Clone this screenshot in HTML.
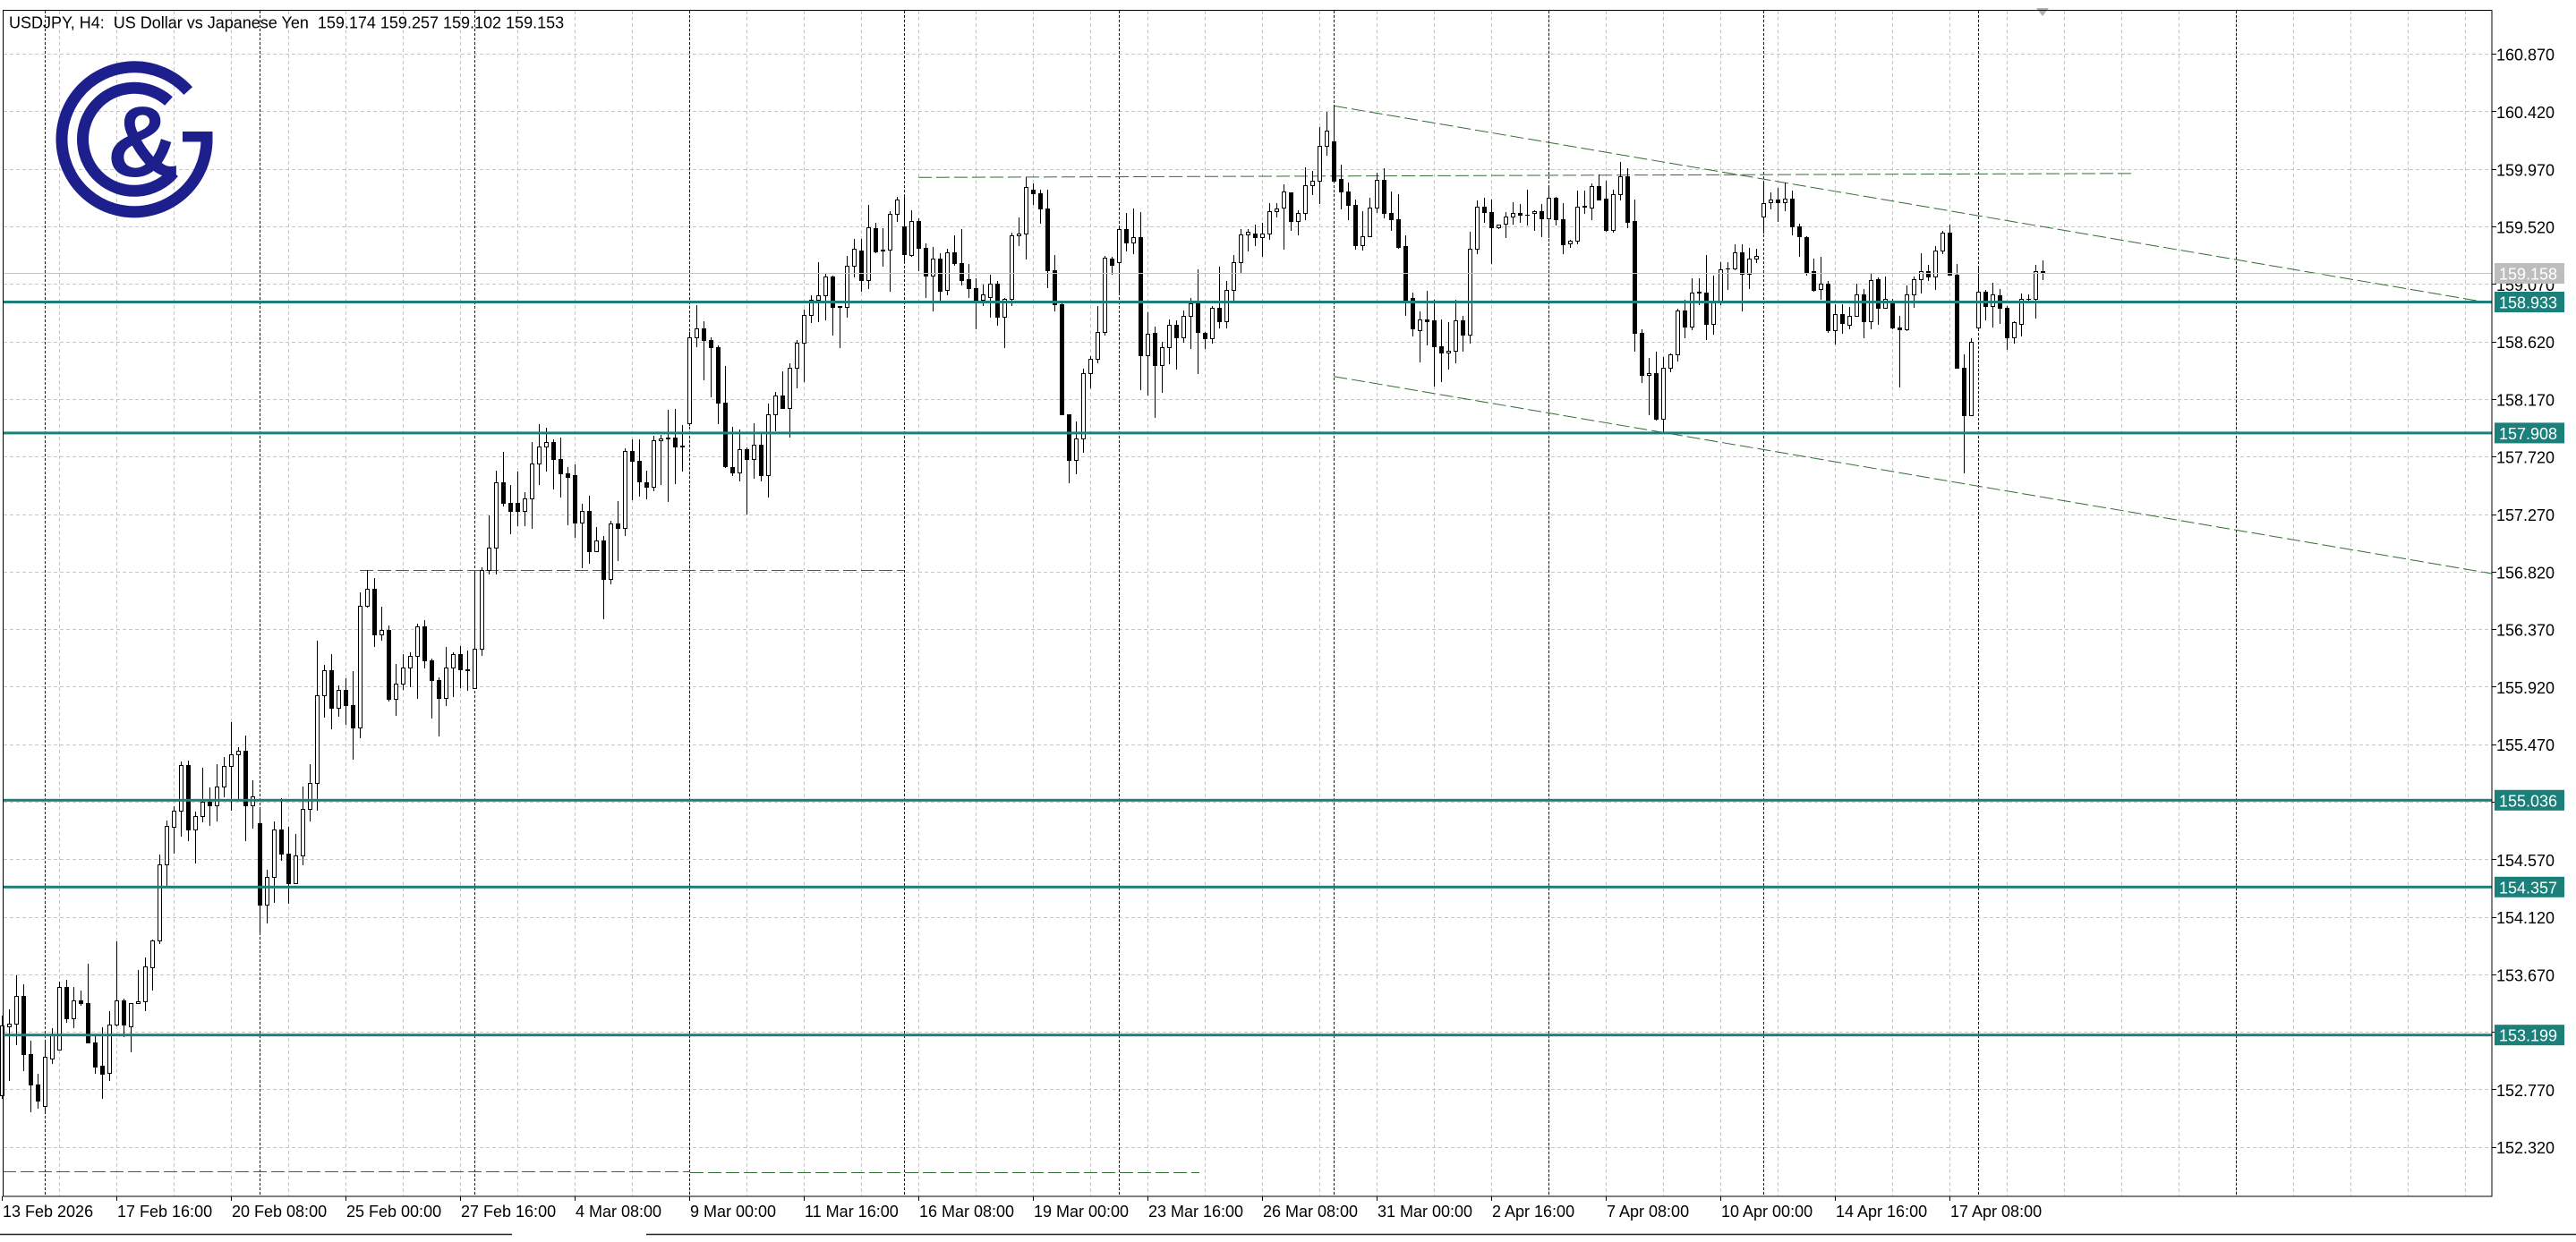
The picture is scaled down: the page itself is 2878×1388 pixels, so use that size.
<!DOCTYPE html>
<html><head><meta charset="utf-8">
<style>
html,body{margin:0;padding:0;background:#fff;}
svg{display:block;}
text{font-family:"Liberation Sans",Arial,sans-serif;font-size:18px;fill:#000;white-space:pre;}
.w{fill:#fff;}
</style></head><body>
<svg xmlns="http://www.w3.org/2000/svg" width="2878" height="1388" viewBox="0 0 2878 1388">
<rect width="2878" height="1388" fill="#fff"/>
<g id="grid" stroke="#c6c6c6" stroke-width="1" stroke-dasharray="4 3" fill="none"></g>
<g id="sep" stroke="#1a1a1a" stroke-width="1" stroke-dasharray="3 2" fill="none"></g>

<!-- logo -->
<g fill="none" stroke="#1d1f8c" stroke-width="13">
<path d="M231 155.8 A81 81 0 1 1 210.2 101.6"/>
<path d="M194 192.8 A57.5 57.5 0 1 1 188.5 113.1"/>
</g>
<rect x="204" y="147" width="33.5" height="11.5" fill="#1d1f8c"/>
<text x="160" y="197" text-anchor="middle" style="font-size:112px;font-weight:bold;fill:#1d1f8c">&amp;</text>

<!-- drawn objects -->
<g stroke="#356b35" stroke-width="1" stroke-dasharray="15 5" fill="none">
<line x1="3" y1="1309.5" x2="771" y2="1309.5"/>
<line x1="771" y1="1310.5" x2="1340" y2="1310.5"/>
<line x1="402" y1="637.5" x2="1010" y2="637.5"/>
<line x1="1026" y1="198.3" x2="2386" y2="193.8"/>
<line x1="1490.3" y1="118.3" x2="2784" y2="338.9"/>
<line x1="1490.3" y1="420.7" x2="2784" y2="641"/>
</g>

<g id="candles" stroke="#000" stroke-width="1"></g>

<!-- bid line -->
<line x1="3" y1="305.5" x2="2784" y2="305.5" stroke="#c4c4c4" stroke-width="1"/>

<!-- teal horizontal levels -->
<g fill="#1b8079">
<rect x="3" y="336" width="2781" height="3"/>
<rect x="3" y="482.4" width="2781" height="3"/>
<rect x="3" y="892.8" width="2781" height="3"/>
<rect x="3" y="989.8" width="2781" height="3"/>
<rect x="3" y="1155.2" width="2781" height="3"/>
</g>

<!-- shift marker -->
<polygon points="2275,9 2289,9 2282,18" fill="#b0b0b0"/>

<!-- frame -->
<rect x="3.5" y="11.5" width="2780.5" height="1325.5" fill="none" stroke="#000" stroke-width="1"/>
<line x1="0" y1="1379.5" x2="572" y2="1379.5" stroke="#222" stroke-width="1.5"/>
<line x1="722" y1="1379.5" x2="2878" y2="1379.5" stroke="#222" stroke-width="1.5"/>

<!-- price axis ticks -->
<g id="pticks" stroke="#000" stroke-width="1"></g>
<g id="tticks" stroke="#000" stroke-width="1"></g>

<!-- price labels -->
<g>
<text x="2789" y="67.7">160.870</text>
<text x="2789" y="132">160.420</text>
<text x="2789" y="196.3">159.970</text>
<text x="2789" y="260.6">159.520</text>
<text x="2789" y="324.9">159.070</text>
<text x="2789" y="389.2">158.620</text>
<text x="2789" y="453.4">158.170</text>
<text x="2789" y="517.7">157.720</text>
<text x="2789" y="582">157.270</text>
<text x="2789" y="646.3">156.820</text>
<text x="2789" y="710.6">156.370</text>
<text x="2789" y="774.9">155.920</text>
<text x="2789" y="839.2">155.470</text>
<text x="2789" y="903.5">155.020</text>
<text x="2789" y="967.8">154.570</text>
<text x="2789" y="1032.1">154.120</text>
<text x="2789" y="1096.3">153.670</text>
<text x="2789" y="1160.6">153.220</text>
<text x="2789" y="1224.9">152.770</text>
<text x="2789" y="1289.2">152.320</text>
</g>

<!-- label boxes -->
<rect x="2787" y="294" width="78" height="23" fill="#bdbdbd"/>
<text class="w" x="2792" y="312.3">159.158</text>
<rect x="2787" y="326" width="78" height="23" fill="#1b8079"/>
<text class="w" x="2792" y="344.5">158.933</text>
<rect x="2787" y="472.4" width="78" height="23" fill="#1b8079"/>
<text class="w" x="2792" y="490.9">157.908</text>
<rect x="2787" y="882.8" width="78" height="23" fill="#1b8079"/>
<text class="w" x="2792" y="901.3">155.036</text>
<rect x="2787" y="979.8" width="78" height="23" fill="#1b8079"/>
<text class="w" x="2792" y="998.3">154.357</text>
<rect x="2787" y="1145.2" width="78" height="23" fill="#1b8079"/>
<text class="w" x="2792" y="1163.7">153.199</text>

<!-- title -->
<text x="10" y="31.5">USDJPY, H4:  US Dollar vs Japanese Yen  159.174 159.257 159.102 159.153</text>

<!-- time labels -->
<g>
<text x="3" y="1360">13 Feb 2026</text>
<text x="131" y="1360">17 Feb 16:00</text>
<text x="259" y="1360">20 Feb 08:00</text>
<text x="387" y="1360">25 Feb 00:00</text>
<text x="515" y="1360">27 Feb 16:00</text>
<text x="643" y="1360">4 Mar 08:00</text>
<text x="771" y="1360">9 Mar 00:00</text>
<text x="899" y="1360">11 Mar 16:00</text>
<text x="1027" y="1360">16 Mar 08:00</text>
<text x="1155" y="1360">19 Mar 00:00</text>
<text x="1283" y="1360">23 Mar 16:00</text>
<text x="1411" y="1360">26 Mar 08:00</text>
<text x="1539" y="1360">31 Mar 00:00</text>
<text x="1667" y="1360">2 Apr 16:00</text>
<text x="1795" y="1360">7 Apr 08:00</text>
<text x="1923" y="1360">10 Apr 00:00</text>
<text x="2051" y="1360">14 Apr 16:00</text>
<text x="2179" y="1360">17 Apr 08:00</text>
</g>
</svg>
<script>
(function(){
var NS='http://www.w3.org/2000/svg';
function L(g,x1,y1,x2,y2){var e=document.createElementNS(NS,'line');e.setAttribute('x1',x1);e.setAttribute('y1',y1);e.setAttribute('x2',x2);e.setAttribute('y2',y2);g.appendChild(e);}
var grid=document.getElementById('grid');
for(var k=1;k<=43;k++){var x=2.5+64*k;L(grid,x,12,x,1337);}
for(var k=0;k<=19;k++){var y=Math.floor(60.7+64.29*k)+0.5;L(grid,4,y,2784,y);}
var sep=document.getElementById('sep');
for(var m=0;m<10;m++){var x=50.5+240*m;L(sep,x,12,x,1337);}
L(sep,2498.5,12,2498.5,1337);
var pt=document.getElementById('pticks');
for(var k=0;k<=19;k++){var y=Math.floor(60.7+64.29*k)+0.5;L(pt,2784,y,2789,y);}
var tt=document.getElementById('tticks');
for(var k=0;k<=17;k++){var x=2.5+128*k;L(tt,x,1337,x,1342);}

var S=[
[0,660,2.612,[
[1,1270,1472,1240,1480],[1,1263,1272,1222,1428],[1,1182,1263,1122,1325],[0,1182,1352,1150,1400],[0,1352,1442,1315,1520],
[0,1443,1490,1410,1510],[1,1362,1505,1310,1525],[1,1295,1365,1278,1380],[1,1158,1340,1142,1340],[0,1158,1248,1135,1258],
[1,1195,1248,1158,1275],[0,1195,1205,1168,1210],[0,1205,1318,1090,1320],[0,1318,1390,1300,1408],[0,1388,1410,1275,1480],
[1,1268,1408,1228,1428],[1,1195,1268,1025,1270],[0,1195,1268,1192,1300],[1,1205,1272,1205,1345],[1,1200,1205,1108,1205],
[1,1098,1200,1072,1225],[1,1020,1100,1018,1165],[1,798,1022,770,1030],[1,688,798,672,865],[1,642,690,630,765],
[1,510,642,500,715],[0,510,697,497,730],[1,657,697,645,795],[1,617,657,517,675],[0,617,628,575,685],
[1,572,628,508,672],[1,512,572,487,600],[1,477,512,385,640],[1,468,477,458,610],[0,468,628,422,730],
[1,600,628,555,693],[0,678,918,640,995],[1,835,918,815,968],[1,697,835,675,910],[0,697,767,605,785],
[0,767,855,690,912],[1,772,853,710,853],[1,637,772,572,800],[1,562,637,507,672],[1,305,562,145,640],
[1,232,305,218,368],[0,232,342,185,403],[1,290,342,278,365],[0,290,335,255,390],[0,335,400,235,492]
]],
[50,180,2.376,[
[1,1180,1505,1145,1530],[1,1135,1180,1087,1183],[0,1135,1258,1108,1288],[1,1245,1258,1183,1272],[0,1245,1428,1232,1432],
[1,1388,1428,1335,1470],[1,1345,1388,1310,1402],[1,1315,1345,1305,1395],[1,1235,1315,1228,1425],[0,1235,1325,1220,1345],
[0,1325,1378,1320,1478],[0,1378,1425,1372,1525],[1,1345,1425,1290,1445],[1,1308,1345,1305,1422],[0,1308,1350,1288,1398],
[0,1349,1351,1300,1405],[1,1295,1400,1092,1400],[1,1087,1295,1078,1312],[1,1027,1087,942,1095],[1,853,1027,822,1095],
[0,853,908,772,915],[0,908,928,860,988],[0,908,930,825,968],[1,895,928,880,968],[1,802,895,745,975],
[1,757,802,698,858],[1,745,757,708,822],[0,745,792,740,870],[0,792,830,735,890],[0,830,838,812,965],
[0,835,960,805,998],[1,930,960,910,1078],[0,930,1035,888,1068],[1,1008,1035,972,1035],[0,1008,1110,995,1215],
[1,963,1110,955,1122],[0,963,975,902,1060],[1,770,975,762,992],[0,770,795,740,898],[0,795,850,740,888],
[0,852,865,822,895],[1,742,865,730,875],[1,737,742,728,858],[1,733,737,660,902],[0,733,757,658,855],
[0,756,758,700,822],[1,468,695,455,700],[1,445,468,382,492],[0,445,475,425,580],[0,475,495,468,625],
[0,495,642,490,697],[0,642,810,545,812],[0,812,828,705,835],[1,765,828,712,848],[0,765,792,760,935],
[1,753,792,695,842],[0,753,835,722,848],[1,673,835,645,890],[1,622,673,612,715],[0,622,655,558,655],
[1,550,655,537,732],[1,483,550,475,600],[1,408,483,395,585]
]],
[113,150,3,[
[1,555,605,540,630],[1,540,555,430,628],[1,478,540,465,622],[0,478,580,475,672],[0,577,579,575,715],
[1,442,578,408,612],[1,385,442,350,478],[0,390,490,352,525],[1,312,490,238,515],[0,315,392,298,395],
[0,388,390,315,440],[1,268,388,258,525],[1,218,268,210,292],[0,310,402,210,422],[1,292,405,255,408],
[0,292,382,282,455],[0,380,475,365,545],[1,418,475,378,592],[0,418,525,400,555],[1,397,522,385,538],
[0,397,432,338,438],[0,432,488,318,505],[0,487,517,435,545],[0,517,555,482,650],[1,538,555,505,572],
[1,502,545,470,612],[0,502,612,492,638],[1,552,612,548,715],[1,340,552,330,572],[1,332,340,280,372],
[1,178,332,145,418],[0,185,198,165,235],[0,198,250,185,298],[0,250,455,185,512],[0,455,570,405,592],
[0,570,940,558,940],[0,940,1092,938,1168],[1,1020,1092,962,1138],[1,800,1020,785,1065],[1,752,800,745,850],
[1,662,752,575,765],[1,415,662,408,672],[0,418,437,412,468],[1,318,430,305,530],[0,318,362,265,390],
[1,345,362,250,398],[0,345,742,262,855],[1,668,742,598,872],[0,665,775,645,948],[1,715,775,695,865],
[1,638,715,622,768],[0,638,680,625,785],[1,610,680,592,695],[1,568,610,550,718],[0,568,662,452,802],
[0,665,685,662,718],[1,582,685,575,698],[0,582,628,445,648],[1,522,628,492,648],[1,428,522,405,560],
[1,335,428,318,465],[1,328,335,318,390],[0,332,345,302,372],[1,332,345,298,408],[1,258,332,232,350]
]],
[178,100,3,[
[1,400,408,380,425],[1,343,397,318,535],[0,345,442,345,470],[1,415,442,405,485],[1,322,415,262,435],
[1,307,322,272,352],[1,190,307,125,382],[1,137,190,75,220],[0,175,305,55,305],[0,300,343,252,398],
[0,343,388,312,435],[0,388,522,370,535],[1,492,522,408,538],[1,397,492,362,492],[1,303,397,280,410],
[0,303,415,265,428],[0,415,435,342,472],[0,435,528,350,532],[0,525,705,490,755],[0,700,802,680,825],
[1,772,808,745,912],[0,772,776,675,855],[0,775,862,705,992],[0,862,883,772,978],[1,875,883,780,935],
[1,775,875,705,915],[0,775,822,760,875],[1,535,822,478,848],[1,392,535,372,550],[0,392,412,362,445],
[0,412,462,370,582],[1,452,462,452,465],[1,425,450,412,495],[1,415,425,378,450],[0,415,420,385,445],
[0,419,421,335,452],[1,408,415,405,472],[0,408,432,385,492],[1,362,432,322,495],[0,362,435,360,452],
[0,435,518,380,548],[1,508,517,505,528],[1,392,508,338,515],[0,391,393,340,415],[1,325,397,315,435],
[0,325,368,285,370],[0,365,472,305,475],[1,350,472,335,478],[1,292,350,242,370],[0,292,445,265,462],
[0,442,815,368,875],[0,815,958,805,982],[1,952,958,900,1088],[0,952,1105,880,1108],[1,932,1105,898,1150],
[1,888,932,885,945],[1,742,888,735,908],[0,742,795,705,832],[1,682,795,632,805],[0,679,681,632,720],
[0,682,785,555,838],[1,712,785,625,818],[1,602,712,578,720],[0,599,601,580,668],[1,545,600,520,602]
]],
[243,160,3,[
[0,367,437,340,562],[1,388,437,352,485],[1,377,388,355,398],[1,200,247,128,300],[1,190,198,165,218],
[0,190,198,150,260],[1,185,198,133,225],[0,185,278,160,305],[0,278,313,270,378],[0,315,432,313,440],
[0,430,492,388,495],[1,472,490,382,522],[0,472,627,462,632],[1,572,627,540,672],[0,572,602,540,635],
[1,580,610,548,620],[1,508,580,472,580],[0,508,598,490,652],[1,458,598,435,622],[0,457,553,450,605],
[1,522,553,448,553],[0,528,617,522,620],[0,617,625,578,815],[1,508,625,478,628],[1,455,508,448,550],
[1,428,455,370,502],[0,428,448,408,458],[1,360,448,345,490],[1,300,360,295,370],[0,300,442,272,442],
[0,442,752,405,752],[0,752,913,708,1105],[1,665,913,655,913],[1,498,617,415,622],[0,498,547,492,590],
[1,508,547,468,615],[0,510,553,490,602],[0,553,652,545,690],[1,600,652,598,668],[1,522,605,505,645],
[0,521,523,508,532],[1,428,522,408,585],[0,428,435,392,455]
]]
];
var g=document.getElementById('candles');
S.forEach(function(seg){
  var i0=seg[0],off=seg[1],sc=seg[2],d=seg[3];
  function f(z){return Math.round(off+z/sc);}
  d.forEach(function(c,j){
    var i=i0+j,x=8*i;
    var bt=f(c[1]),bb=f(c[2]),wt=f(c[3]),wb=f(c[4]);
    if(bt>bb){var t=bt;bt=bb;bb=t;}
    wt=Math.min(wt,bt);wb=Math.max(wb,bb);
    L(g,x+2.5,wt,x+2.5,wb+1);
    if(bb-bt<1){
      L(g,x,bt+0.5,x+5,bt+0.5);
    }else{
      var r=document.createElementNS(NS,'rect');
      r.setAttribute('x',x+0.5);r.setAttribute('y',bt+0.5);
      r.setAttribute('width',4);r.setAttribute('height',bb-bt);
      r.setAttribute('fill',c[0]?'#fff':'#000');
      g.appendChild(r);
    }
  });
});
})();
</script>
</body></html>
